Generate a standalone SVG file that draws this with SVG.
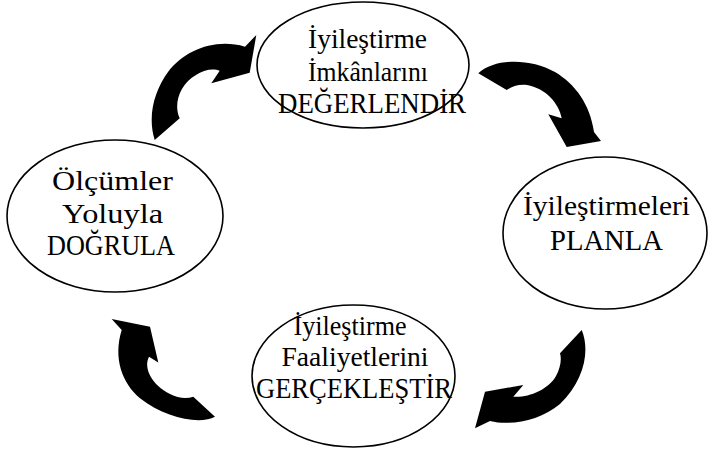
<svg xmlns="http://www.w3.org/2000/svg" width="708" height="450" viewBox="0 0 708 450">
<style>
.node ellipse{fill:#fff;stroke:#000;stroke-width:1.6}
.node text{font-family:"Liberation Serif","Times New Roman",serif;font-size:28px;fill:#000;text-anchor:middle}
.node text.caps{font-size:30px}
.arrow{fill:#000;stroke:none}
</style>
<rect width="708" height="450" fill="#fff"/>
<g id="connectors">
<path class="arrow" d="M154.7,140 L179.7,118.3 C173,104 180,84 196,75 C203,70 213,68 219.7,70.7 L211.3,83.3 L249.7,72.7 L256.3,35 L245,46.7 C215,38 185,50 168,72 C155,90 147,115 154.7,140 Z"/>
<path class="arrow" d="M478.3,73.3 C495,58 530,58 555,72 C575,84 590,104 594,132 L601,141 L566.7,147 L548.3,114.3 L561.7,118.3 C559,103 545,88 527,85 C518,84 511,87 506.7,90 Z"/>
<path class="arrow" d="M581.7,330 C590,350 585,380 560,404 C540,421 510,426 490,421 L475,428.3 L485,391.7 L523.3,385 L513.3,396.7 C528,398 548,390 556,376 C560,369 562,360 560,353.3 Z"/>
<path class="arrow" d="M193.3,396.7 L215,416.7 C200,425 165,418 140,398.3 C122,383 113,358 121.7,330 L111.7,319 L150,326.7 L158.3,362.5 L149,356.7 C143,368 152,385 170,394 C178,398 186,399 193.3,396.7 Z"/>
</g>
<g id="node-degerlendir" class="node">
<ellipse cx="363" cy="65" rx="106" ry="63"/>
<text x="367.5" y="48" textLength="119" lengthAdjust="spacingAndGlyphs">İyileştirme</text>
<text x="368" y="80.5" textLength="120" lengthAdjust="spacingAndGlyphs">İmkânlarını</text>
<text class="caps" x="372" y="113" textLength="188" lengthAdjust="spacingAndGlyphs">DEĞERLENDİR</text>
</g>
<g id="node-planla" class="node">
<ellipse cx="605" cy="233" rx="102" ry="76"/>
<text x="606.5" y="215" textLength="167" lengthAdjust="spacingAndGlyphs">İyileştirmeleri</text>
<text class="caps" x="606.5" y="250" textLength="113" lengthAdjust="spacingAndGlyphs">PLANLA</text>
</g>
<g id="node-gerceklestir" class="node">
<ellipse cx="353.5" cy="376" rx="101.5" ry="71"/>
<text x="350" y="334.5" textLength="113" lengthAdjust="spacingAndGlyphs">İyileştirme</text>
<text x="355" y="366" textLength="147" lengthAdjust="spacingAndGlyphs">Faaliyetlerini</text>
<text class="caps" x="354" y="398" textLength="196" lengthAdjust="spacingAndGlyphs">GERÇEKLEŞTİR</text>
</g>
<g id="node-dogrula" class="node">
<ellipse cx="115" cy="216" rx="108" ry="76"/>
<text x="112.5" y="190" textLength="121" lengthAdjust="spacingAndGlyphs">Ölçümler</text>
<text x="112.5" y="222.5" textLength="101" lengthAdjust="spacingAndGlyphs">Yoluyla</text>
<text class="caps" x="111" y="255" textLength="128" lengthAdjust="spacingAndGlyphs">DOĞRULA</text>
</g>
</svg>
